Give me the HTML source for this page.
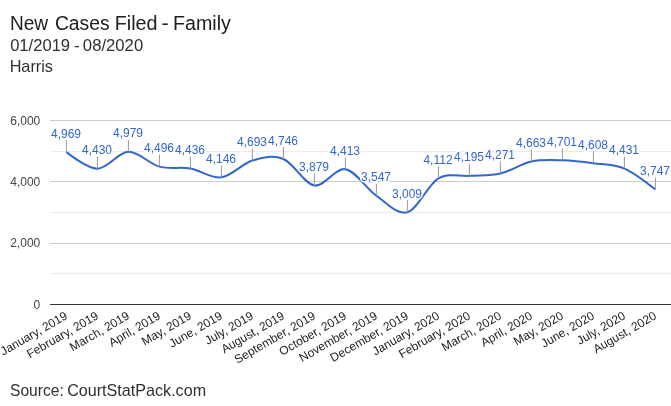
<!DOCTYPE html>
<html><head><meta charset="utf-8"><title>New Cases Filed - Family</title>
<style>
html,body{margin:0;padding:0;background:#fff;}
body{width:671px;height:406px;overflow:hidden;font-family:"Liberation Sans",sans-serif;}
svg{display:block;}
text{font-family:"Liberation Sans",sans-serif;}
</style></head><body>
<svg width="671" height="406" viewBox="0 0 671 406">
<rect width="671" height="406" fill="#ffffff"/>

<text y="29.6" font-size="19.5" fill="#212121" lengthAdjust="spacingAndGlyphs"><tspan x="9.91" textLength="38.20" lengthAdjust="spacingAndGlyphs">New</tspan> <tspan x="54.91" textLength="54.73" lengthAdjust="spacingAndGlyphs">Cases</tspan> <tspan x="114.75" textLength="42.83" lengthAdjust="spacingAndGlyphs">Filed</tspan> <tspan x="161.62" textLength="7.25" lengthAdjust="spacingAndGlyphs">-</tspan> <tspan x="172.96" textLength="57.88" lengthAdjust="spacingAndGlyphs">Family</tspan></text>
<text y="51" font-size="16.4" fill="#303030" lengthAdjust="spacingAndGlyphs"><tspan x="10.17" textLength="59.92" lengthAdjust="spacingAndGlyphs">01/2019</tspan> <tspan x="74.11" textLength="5.73" lengthAdjust="spacingAndGlyphs">-</tspan> <tspan x="82.86" textLength="60.30" lengthAdjust="spacingAndGlyphs">08/2020</tspan></text>
<text y="71.8" font-size="16.4" fill="#303030" lengthAdjust="spacingAndGlyphs"><tspan x="9.64" textLength="43.36" lengthAdjust="spacingAndGlyphs">Harris</tspan></text>
<text y="396.2" font-size="16.4" fill="#303030" lengthAdjust="spacingAndGlyphs"><tspan x="9.99" textLength="53.75" lengthAdjust="spacingAndGlyphs">Source:</tspan> <tspan x="67.14" textLength="138.98" lengthAdjust="spacingAndGlyphs">CourtStatPack.com</tspan></text>
<rect x="50" y="151" width="621" height="1" fill="#ebebeb"/>
<rect x="50" y="212" width="621" height="1" fill="#ebebeb"/>
<rect x="50" y="273" width="621" height="1" fill="#ebebeb"/>
<rect x="50" y="120" width="621" height="1" fill="#cccccc"/>
<rect x="50" y="181" width="621" height="1" fill="#cccccc"/>
<rect x="50" y="243" width="621" height="1" fill="#cccccc"/>
<rect x="50" y="304" width="621" height="1" fill="#333333"/>
<text x="40.3" y="124.7" font-size="12" fill="#444444" text-anchor="end">6,000</text>
<text x="40.3" y="185.7" font-size="12" fill="#444444" text-anchor="end">4,000</text>
<text x="40.3" y="246.8" font-size="12" fill="#444444" text-anchor="end">2,000</text>
<text x="40.3" y="308.7" font-size="12" fill="#444444" text-anchor="end">0</text>
<path d="M66.40,152.12C66.40,152.12,87.07,168.70,97.40,168.65C107.73,168.60,118.07,152.15,128.40,151.81C138.73,151.47,149.07,163.85,159.40,166.62C169.73,169.40,180.07,166.67,190.40,168.46C200.73,170.25,211.07,178.67,221.40,177.36C231.73,176.04,242.07,163.65,252.40,160.58C262.73,157.51,273.07,154.80,283.40,158.96C293.73,163.12,304.07,183.84,314.40,185.54C324.73,187.25,335.07,167.47,345.40,169.17C355.73,170.86,366.07,188.55,376.40,195.73C386.73,202.90,397.07,215.11,407.40,212.22C417.73,209.34,428.07,184.46,438.40,178.40C448.73,172.34,459.07,176.67,469.40,175.85C479.73,175.04,490.07,175.91,500.40,173.52C510.73,171.13,521.07,163.70,531.40,161.50C541.73,159.30,552.07,160.05,562.40,160.34C572.73,160.62,583.07,161.81,593.40,163.19C603.73,164.57,614.07,164.22,624.40,168.62C634.73,173.02,655.40,189.59,655.40,189.59" fill="none" stroke="#3366cc" stroke-width="2"/>
<rect x="65.9" y="140.1" width="1" height="12" fill="#999999"/>
<rect x="96.9" y="156.6" width="1" height="12" fill="#999999"/>
<rect x="127.9" y="139.8" width="1" height="12" fill="#999999"/>
<rect x="158.9" y="154.6" width="1" height="12" fill="#999999"/>
<rect x="189.9" y="156.5" width="1" height="12" fill="#999999"/>
<rect x="220.9" y="165.4" width="1" height="12" fill="#999999"/>
<rect x="251.9" y="148.6" width="1" height="12" fill="#999999"/>
<rect x="282.9" y="147.0" width="1" height="12" fill="#999999"/>
<rect x="313.9" y="173.5" width="1" height="12" fill="#999999"/>
<rect x="344.9" y="157.2" width="1" height="12" fill="#999999"/>
<rect x="375.9" y="183.7" width="1" height="12" fill="#999999"/>
<rect x="406.9" y="200.2" width="1" height="12" fill="#999999"/>
<rect x="437.9" y="166.4" width="1" height="12" fill="#999999"/>
<rect x="468.9" y="163.9" width="1" height="12" fill="#999999"/>
<rect x="499.9" y="161.5" width="1" height="12" fill="#999999"/>
<rect x="530.9" y="149.5" width="1" height="12" fill="#999999"/>
<rect x="561.9" y="148.3" width="1" height="12" fill="#999999"/>
<rect x="592.9" y="151.2" width="1" height="12" fill="#999999"/>
<rect x="623.9" y="156.6" width="1" height="12" fill="#999999"/>
<rect x="654.9" y="177.6" width="1" height="12" fill="#999999"/>
<text x="66.0" y="137.8" font-size="12" fill="#3366cc" text-anchor="middle" stroke="#ffffff" stroke-width="3" paint-order="stroke" stroke-linejoin="round">4,969</text>
<text x="97.0" y="153.8" font-size="12" fill="#3366cc" text-anchor="middle" stroke="#ffffff" stroke-width="3" paint-order="stroke" stroke-linejoin="round">4,430</text>
<text x="128.0" y="136.8" font-size="12" fill="#3366cc" text-anchor="middle" stroke="#ffffff" stroke-width="3" paint-order="stroke" stroke-linejoin="round">4,979</text>
<text x="159.0" y="151.8" font-size="12" fill="#3366cc" text-anchor="middle" stroke="#ffffff" stroke-width="3" paint-order="stroke" stroke-linejoin="round">4,496</text>
<text x="190.0" y="153.8" font-size="12" fill="#3366cc" text-anchor="middle" stroke="#ffffff" stroke-width="3" paint-order="stroke" stroke-linejoin="round">4,436</text>
<text x="221.0" y="162.8" font-size="12" fill="#3366cc" text-anchor="middle" stroke="#ffffff" stroke-width="3" paint-order="stroke" stroke-linejoin="round">4,146</text>
<text x="252.0" y="145.8" font-size="12" fill="#3366cc" text-anchor="middle" stroke="#ffffff" stroke-width="3" paint-order="stroke" stroke-linejoin="round">4,693</text>
<text x="283.0" y="144.8" font-size="12" fill="#3366cc" text-anchor="middle" stroke="#ffffff" stroke-width="3" paint-order="stroke" stroke-linejoin="round">4,746</text>
<text x="314.0" y="170.8" font-size="12" fill="#3366cc" text-anchor="middle" stroke="#ffffff" stroke-width="3" paint-order="stroke" stroke-linejoin="round">3,879</text>
<text x="345.0" y="154.8" font-size="12" fill="#3366cc" text-anchor="middle" stroke="#ffffff" stroke-width="3" paint-order="stroke" stroke-linejoin="round">4,413</text>
<text x="376.0" y="180.8" font-size="12" fill="#3366cc" text-anchor="middle" stroke="#ffffff" stroke-width="3" paint-order="stroke" stroke-linejoin="round">3,547</text>
<text x="407.0" y="197.8" font-size="12" fill="#3366cc" text-anchor="middle" stroke="#ffffff" stroke-width="3" paint-order="stroke" stroke-linejoin="round">3,009</text>
<text x="438.0" y="163.8" font-size="12" fill="#3366cc" text-anchor="middle" stroke="#ffffff" stroke-width="3" paint-order="stroke" stroke-linejoin="round">4,112</text>
<text x="469.0" y="160.8" font-size="12" fill="#3366cc" text-anchor="middle" stroke="#ffffff" stroke-width="3" paint-order="stroke" stroke-linejoin="round">4,195</text>
<text x="500.0" y="158.8" font-size="12" fill="#3366cc" text-anchor="middle" stroke="#ffffff" stroke-width="3" paint-order="stroke" stroke-linejoin="round">4,271</text>
<text x="531.0" y="146.8" font-size="12" fill="#3366cc" text-anchor="middle" stroke="#ffffff" stroke-width="3" paint-order="stroke" stroke-linejoin="round">4,663</text>
<text x="562.0" y="145.8" font-size="12" fill="#3366cc" text-anchor="middle" stroke="#ffffff" stroke-width="3" paint-order="stroke" stroke-linejoin="round">4,701</text>
<text x="593.0" y="148.8" font-size="12" fill="#3366cc" text-anchor="middle" stroke="#ffffff" stroke-width="3" paint-order="stroke" stroke-linejoin="round">4,608</text>
<text x="624.0" y="153.8" font-size="12" fill="#3366cc" text-anchor="middle" stroke="#ffffff" stroke-width="3" paint-order="stroke" stroke-linejoin="round">4,431</text>
<text x="655.0" y="174.8" font-size="12" fill="#3366cc" text-anchor="middle" stroke="#ffffff" stroke-width="3" paint-order="stroke" stroke-linejoin="round">3,747</text>
<text x="68.4" y="318.2" font-size="12" fill="#222222" text-anchor="end" transform="rotate(-30 68.4 318.2)">January, 2019</text>
<text x="99.4" y="318.2" font-size="12" fill="#222222" text-anchor="end" transform="rotate(-30 99.4 318.2)">February, 2019</text>
<text x="130.4" y="318.2" font-size="12" fill="#222222" text-anchor="end" transform="rotate(-30 130.4 318.2)">March, 2019</text>
<text x="161.4" y="318.2" font-size="12" fill="#222222" text-anchor="end" transform="rotate(-30 161.4 318.2)">April, 2019</text>
<text x="192.4" y="318.2" font-size="12" fill="#222222" text-anchor="end" transform="rotate(-30 192.4 318.2)">May, 2019</text>
<text x="223.4" y="318.2" font-size="12" fill="#222222" text-anchor="end" transform="rotate(-30 223.4 318.2)">June, 2019</text>
<text x="254.4" y="318.2" font-size="12" fill="#222222" text-anchor="end" transform="rotate(-30 254.4 318.2)">July, 2019</text>
<text x="285.4" y="318.2" font-size="12" fill="#222222" text-anchor="end" transform="rotate(-30 285.4 318.2)">August, 2019</text>
<text x="316.4" y="318.2" font-size="12" fill="#222222" text-anchor="end" transform="rotate(-30 316.4 318.2)">September, 2019</text>
<text x="347.4" y="318.2" font-size="12" fill="#222222" text-anchor="end" transform="rotate(-30 347.4 318.2)">October, 2019</text>
<text x="378.4" y="318.2" font-size="12" fill="#222222" text-anchor="end" transform="rotate(-30 378.4 318.2)">November, 2019</text>
<text x="409.4" y="318.2" font-size="12" fill="#222222" text-anchor="end" transform="rotate(-30 409.4 318.2)">December, 2019</text>
<text x="440.4" y="318.2" font-size="12" fill="#222222" text-anchor="end" transform="rotate(-30 440.4 318.2)">January, 2020</text>
<text x="471.4" y="318.2" font-size="12" fill="#222222" text-anchor="end" transform="rotate(-30 471.4 318.2)">February, 2020</text>
<text x="502.4" y="318.2" font-size="12" fill="#222222" text-anchor="end" transform="rotate(-30 502.4 318.2)">March, 2020</text>
<text x="533.4" y="318.2" font-size="12" fill="#222222" text-anchor="end" transform="rotate(-30 533.4 318.2)">April, 2020</text>
<text x="564.4" y="318.2" font-size="12" fill="#222222" text-anchor="end" transform="rotate(-30 564.4 318.2)">May, 2020</text>
<text x="595.4" y="318.2" font-size="12" fill="#222222" text-anchor="end" transform="rotate(-30 595.4 318.2)">June, 2020</text>
<text x="626.4" y="318.2" font-size="12" fill="#222222" text-anchor="end" transform="rotate(-30 626.4 318.2)">July, 2020</text>
<text x="657.4" y="318.2" font-size="12" fill="#222222" text-anchor="end" transform="rotate(-30 657.4 318.2)">August, 2020</text>
</svg></body></html>
